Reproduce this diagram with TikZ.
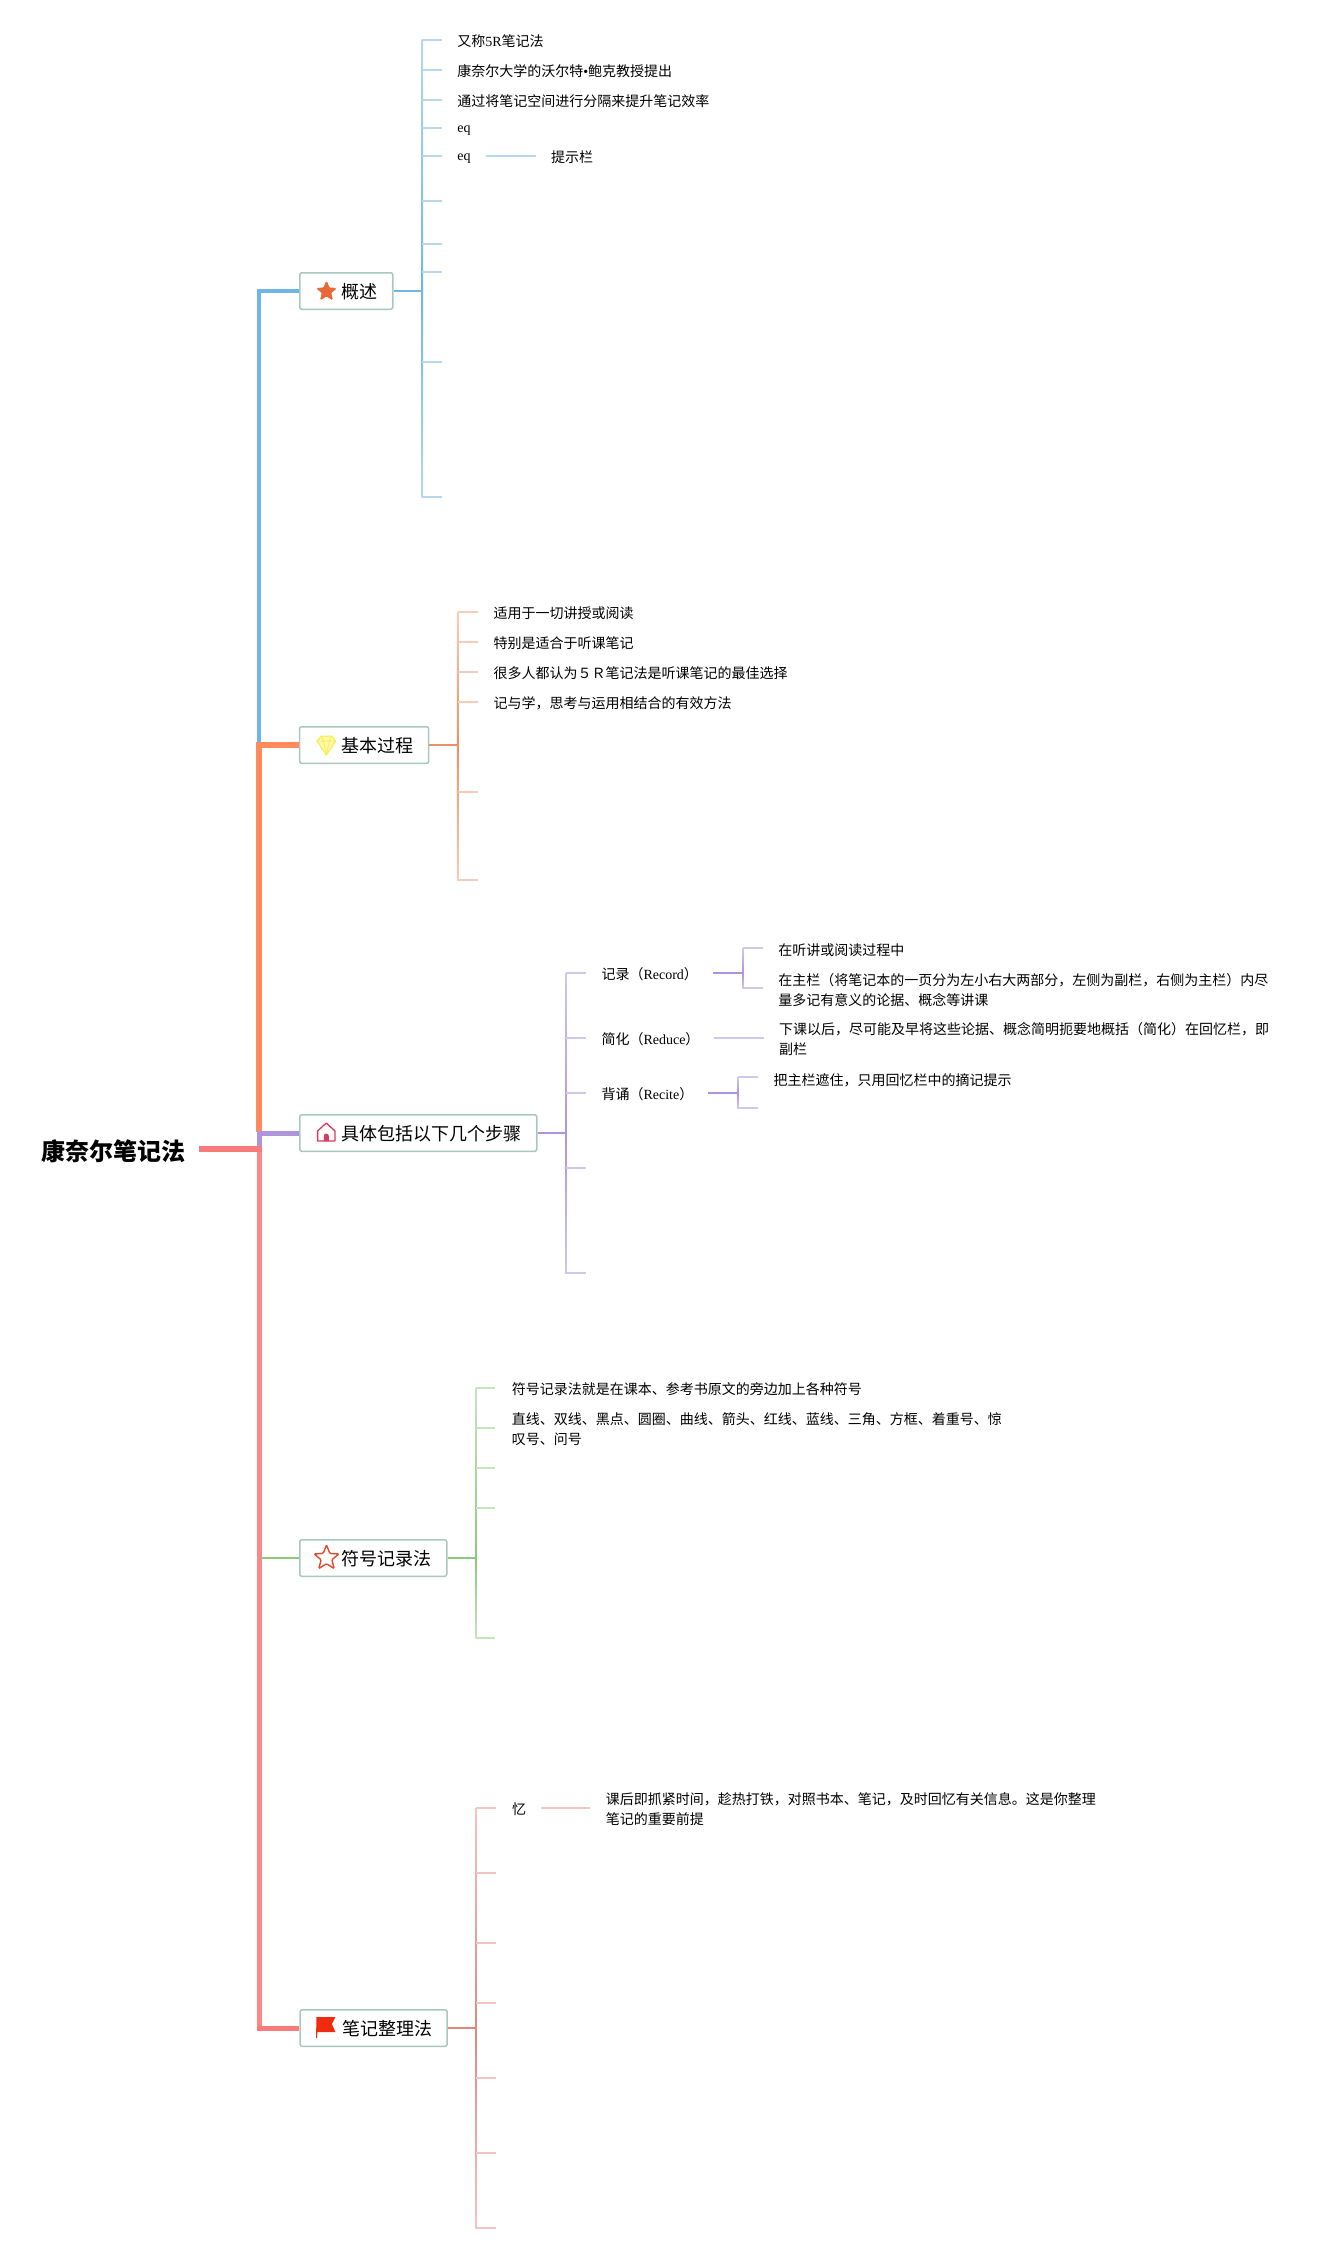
\documentclass[tikz,border=0pt]{standalone}
\usepackage{fontspec}
\setmainfont{Liberation Serif}
\newfontfamily\cjk{Noto Sans CJK SC}
\usetikzlibrary{shapes.geometric}
\newcommand\lat[1]{{\rmfamily #1}}
\definecolor{ovD}{HTML}{6FB5E6}\definecolor{ovL}{HTML}{BAD6EC}
\definecolor{baD}{HTML}{E8906A}\definecolor{baL}{HTML}{F5CDB8}
\definecolor{stD}{HTML}{AE94DC}\definecolor{stL}{HTML}{CFC8EC}
\definecolor{syD}{HTML}{8CC87E}\definecolor{syL}{HTML}{C6E4BE}
\definecolor{reD}{HTML}{E08680}\definecolor{reL}{HTML}{F5C4C2}
\definecolor{rootline}{HTML}{F77B7B}
\definecolor{pinkline}{HTML}{FB8886}
\definecolor{orangeline}{HTML}{FF8A5C}
\definecolor{frame}{HTML}{A8C8BE}
\definecolor{staricon}{HTML}{E8683A}
\definecolor{gemline}{HTML}{F8EC48}
\definecolor{gemfill}{HTML}{FFF9A8}
\definecolor{houseicon}{HTML}{D93A62}
\definecolor{hollowstar}{HTML}{E2492E}
\definecolor{flagicon}{HTML}{F02C10}
\colorlet{recD}{stD}\colorlet{recL}{stL}
\colorlet{citD}{stD}\colorlet{citL}{stL}
\tikzset{
  topic/.style={draw=frame,line width=1.5pt,fill=white,rounded corners=2pt,anchor=west,
    text height=26.05pt,text depth=10.45pt,inner xsep=15pt,inner ysep=0pt,
    font=\cjk\fontsize{18}{22}\selectfont,execute at begin node=\hspace*{27pt}},
  leaf/.style={anchor=west,inner sep=0pt,align=left,font=\cjk\fontsize{14}{20}\selectfont},
  twig/.style={line width=1.6pt},
}
% name, bracket x, tick end x, join y, top y, bottom y, tick list
\newcommand\Bracket[7]{%
  \coordinate (#1J) at (#2,#4);
  \coordinate (#1T) at (#2,#5);
  \coordinate (#1B) at (#2,#6);
  \shade[top color=#1L,bottom color=#1D] ([xshift=-.8pt]#1T) rectangle ([xshift=.8pt]#1J);
  \shade[top color=#1D,bottom color=#1L] ([xshift=-.8pt]#1J) rectangle ([xshift=.8pt]#1B);
  \foreach \i/\y in {#7} {
    \coordinate (#1b\i) at (#2,\y);
    \coordinate (#1e\i) at (#3,\y);
    \draw[twig,#1L] (#1b\i) -- (#1e\i);
  }
}
\begin{document}
\begin{tikzpicture}[x=1pt,y=-1pt]
\useasboundingbox (0,0) rectangle (1339,2253);
% Drawing trunk
\node[inner sep=0pt,anchor=west,font=\cjk\bfseries\fontsize{24}{28}\selectfont] (root) at (41,1151) {康奈尔笔记法};
\coordinate (rootOut) at (199,1149);
\coordinate (rootJ) at (259,1149);
\coordinate (ovK) at (259,291);
\coordinate (ovEnd) at (259,743);
\coordinate (baK) at (259,745);
\coordinate (baEnd) at (259,1132);
\coordinate (stK) at (259,1133);
\coordinate (syK) at (261,1558);
\coordinate (reK) at (259,2028);
% Line 1: topics
\node[topic] (ovTopic) at (299,291) {概述};
\node[topic] (baTopic) at (298.9,745) {基本过程};
\node[topic] (stTopic) at (299,1133) {具体包括以下几个步骤};
\node[topic] (syTopic) at (299,1558) {符号记录法};
\node[topic] (reTopic) at (299.4,2028) {笔记整理法};
\draw[ovD,line width=3.5pt] (ovEnd) -- (ovK) -- (ovTopic.west);
\draw[orangeline,line width=5.5pt] (baEnd) -- (baK) -- (baTopic.west);
\draw[pinkline,line width=5pt] (rootJ) -- (reK);
\draw[rootline,line width=5pt] ([xshift=-2.5pt]reK) -- (reTopic.west);
\draw[stD,line width=5pt] (rootJ) -- (stK) -- (stTopic.west);
\draw[rootline,line width=6pt] (rootOut) -- ([xshift=2.5pt]rootJ);
\draw[syD,line width=2pt] (syK) -- (syTopic.west);
% Done with trunk; drawing brackets
\Bracket{ov}{422.4}{441.8}{291}{40}{497}{1/40,2/70,3/100,4/128,5/156,6/201,7/244,8/272,9/362,10/497}
\Bracket{ba}{457.7}{478}{745}{612}{880}{1/612,2/642,3/672,4/702,5/792,6/880}
\Bracket{st}{566}{585.7}{1133}{973}{1273}{1/973,2/1038,3/1093,4/1168,5/1273}
\Bracket{sy}{476}{495.4}{1558}{1388}{1638}{1/1388,2/1428,3/1468,4/1508,5/1638}
\Bracket{re}{475.8}{496}{2028}{1808}{2228}{1/1808,2/1873,3/1943,4/2003,5/2078,6/2153,7/2228}
\draw[ovD,line width=2pt] (ovTopic.east) -- (ovJ);
\draw[baD,line width=2pt] (baTopic.east) -- (baJ);
\draw[stD,line width=2pt] (stTopic.east) -- (stJ);
\draw[syD,line width=2pt] (syTopic.east) -- (syJ);
\draw[reD,line width=2pt] (reTopic.east) -- (reJ);
% Line 2: overview leaves
\node[leaf] (ov1) at (457.1,41) {又称\lat{5R}笔记法};
\node[leaf] (ov2) at (457.1,71) {康奈尔大学的沃尔特\lat{•}鲍克教授提出};
\node[leaf] (ov3) at (457.1,101) {通过将笔记空间进行分隔来提升笔记效率};
\node[leaf] (ov4) at (457.1,131) {\lat{eq}};
\node[leaf] (ov5) at (457.1,159) {\lat{eq}};
\node[leaf] (ovHint) at (551,157) {提示栏};
\coordinate (ovHintA) at (486.2,156);
\coordinate (ovHintB) at (536.2,156);
\draw[twig,ovL] (ovHintA) -- (ovHintB);
% Line 3: basic process leaves
\node[leaf] (ba1) at (493.3,613) {适用于一切讲授或阅读};
\node[leaf] (ba2) at (493.3,643) {特别是适合于听课笔记};
\node[leaf] (ba3) at (493.3,673) {很多人都认为５Ｒ笔记法是听课笔记的最佳选择};
\node[leaf] (ba4) at (493.3,703) {记与学，思考与运用相结合的有效方法};
% Line 4: steps
\node[leaf] (st1) at (601.3,974) {记录（\lat{Record}）};
\node[leaf] (st2) at (601.3,1039) {简化（\lat{Reduce}）};
\node[leaf] (st3) at (601.3,1094) {背诵（\lat{Recite}）};
\coordinate (recOut) at (713,973);
\Bracket{rec}{742.8}{763}{973}{948}{988}{1/948,2/988}
\draw[recD,line width=2pt] (recOut) -- (recJ);
\node[leaf] (rec1) at (778.2,950) {在听讲或阅读过程中};
\node[leaf] (rec2) at (778.2,990) {在主栏（将笔记本的一页分为左小右大两部分，左侧为副栏，右侧为主栏）内尽\\量多记有意义的论据、概念等讲课};
\coordinate (redA) at (713.9,1038);
\coordinate (redB) at (764,1038);
\draw[twig,stL] (redA) -- (redB);
\node[leaf] (red1) at (779,1039) {下课以后，尽可能及早将这些论据、概念简明扼要地概括（简化）在回忆栏，即\\副栏};
\coordinate (citOut) at (708.1,1093);
\Bracket{cit}{737.9}{757.5}{1093}{1077}{1108}{1/1077,2/1108}
\draw[citD,line width=2pt] (citOut) -- (citJ);
\node[leaf] (cit1) at (773.4,1080) {把主栏遮住，只用回忆栏中的摘记提示};
% Line 5: symbol leaves
\node[leaf] (sy1) at (511.7,1389) {符号记录法就是在课本、参考书原文的旁边加上各种符号};
\node[leaf] (sy2) at (511.7,1429) {直线、双线、黑点、圆圈、曲线、箭头、红线、蓝线、三角、方框、着重号、惊\\叹号、问号};
% Line 6: review leaves
\node[leaf] (re1) at (511.8,1809) {忆};
\coordinate (reMemA) at (541,1808);
\coordinate (reMemB) at (590,1808);
\draw[twig,reL] (reMemA) -- (reMemB);
\node[leaf] (reMem) at (605.6,1809) {课后即抓紧时间，趁热打铁，对照书本、笔记，及时回忆有关信息。这是你整理\\笔记的重要前提};
% Done with leaves; drawing icons
\node[star,star points=5,star point ratio=2.3,fill=staricon,draw=staricon,line width=1pt,rounded corners=1pt,minimum size=20pt,inner sep=0pt] (ovIcon) at (326.5,291.5) {};
\begin{scope}[draw=gemline,fill=gemfill,line width=1pt,line join=round]
\filldraw (316.9,741) -- (321.4,736) -- (331.4,736) -- (335.9,741) -- (326.4,755) -- cycle;
\draw[line width=.6pt] (316.9,741) -- (335.9,741) (321.4,736) -- (323.4,741) -- (326.4,755) -- (329.4,741) -- (331.4,736);
\end{scope}
\draw[color=houseicon,line width=1.3pt,line join=round] (317.6,1141) -- (317.6,1131) -- (326.3,1123) -- (335,1131) -- (335,1141) -- cycle;
\fill[houseicon] (323.8,1141) -- (323.8,1136) arc[start angle=180,end angle=0,radius=2.5pt] -- (328.8,1141) -- cycle;
\node[star,star points=5,star point ratio=2.3,draw=hollowstar,line width=1.4pt,rounded corners=1pt,minimum size=26pt,inner sep=0pt] (syIcon) at (326.5,1558) {};
\fill[flagicon] (316.4,2017) -- (335.4,2017) -- (331.9,2024) -- (335.4,2032) -- (317.4,2032) -- (317,2038) -- (316.1,2038) -- cycle;
% Done with icons
\end{tikzpicture}
\end{document}
